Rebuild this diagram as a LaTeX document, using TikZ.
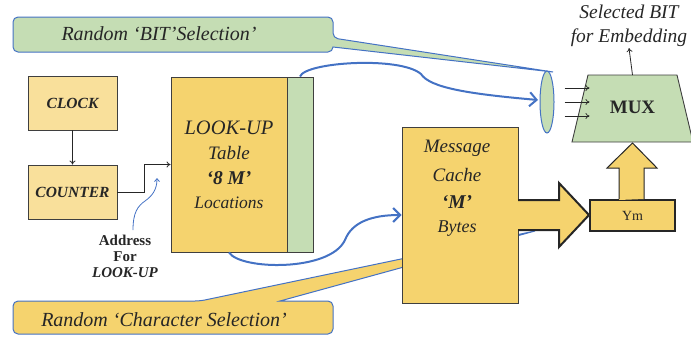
\documentclass[tikz,border=0pt]{standalone}
\usepackage{fontspec}
\setmainfont{Liberation Serif}
\usetikzlibrary{arrows.meta,shapes.geometric}
\definecolor{ylw}{HTML}{F5D36E}
\definecolor{lylw}{HTML}{F9E09B}
\definecolor{grn}{HTML}{C5DDB4}
\definecolor{blu}{HTML}{4472C4}
\definecolor{bord}{HTML}{3F3F3F}
\definecolor{txt}{HTML}{262626}
\newcommand{\fs}[2]{\fontsize{#1}{#2}\selectfont}
\tikzset{
  smallbox/.style={draw=bord, line width=0.9pt, fill=lylw, minimum width=89, minimum height=54, inner sep=0pt, text=txt, font=\fs{15.5}{18}\bfseries\itshape},
  bigbox/.style={draw=bord, line width=0.9pt, fill=ylw, inner sep=0pt, text=txt, align=center},
  blk/.style={draw=txt, line width=0.8pt, -{To[length=4pt,width=6pt]}},
  bluarr/.style={draw=blu, line width=2pt, -{Straight Barb[length=7pt,width=14pt,line width=2pt]}},
  callout/.style={draw=blu, line width=1pt, rounded corners=5pt},
  ctext/.style={text=txt, font=\fs{20}{22}\itshape, inner sep=0pt}
}
\begin{document}
\begin{tikzpicture}[x=1pt,y=-1pt]
\useasboundingbox (0,0) rectangle (691,338);

% green callout
\path[callout, fill=grn] (13,17) -- (333,17) -- (333,38) [sharp corners] -- (553,72) -- (333,47) [rounded corners=5pt] -- (333,52) -- (13,52) -- cycle;
\node[ctext] (bitsel) at (159,34) {Random ‘BIT’Selection’};

% yellow callout
\path[callout, fill=ylw] (13,301) -- (200,301) [sharp corners] -- (535,231) -- (280,301) [rounded corners=5pt] -- (333,301) -- (333,334) -- (13,334) -- cycle;
\node[ctext] (charsel) at (164,320) {Random ‘Character Selection’};

% clock & counter
\node[smallbox] (clock) at (72.5,103) {CLOCK};
\node[smallbox] (counter) at (72.5,192) {COUNTER};
\draw[blk] (clock) -- (counter);

% lookup table
\node[bigbox, minimum width=116, minimum height=175] (lookup) at (229,164.5) {};
\node[draw=bord, line width=0.9pt, fill=grn, minimum width=26, minimum height=175, inner sep=0pt] (strip) at (300,164.5) {};
\node[text=txt, font=\fs{20.5}{22}\itshape, inner sep=0pt] (lk1) at (229,128) {LOOK-UP};
\node[text=txt, font=\fs{19}{22}\itshape, inner sep=0pt] (lk2) at (229,153) {Table};
\node[text=txt, font=\fs{19.5}{22}\bfseries\itshape, inner sep=0pt] (lk3) at (229,178) {‘8 M’};
\node[text=txt, font=\fs{17.5}{20}\itshape, inner sep=0pt] (lk4) at (229,203) {Locations};

\draw[blk] (counter.east) -- ++(27,0) |- (lookup.west);

% address label
\node[text=txt, font=\fs{15}{16}\bfseries, align=center, inner sep=0pt] (addr) at (125,256) {Address\\For\\\itshape LOOK-UP};
\draw[draw=blu, line width=0.8pt, -{Straight Barb[length=3pt,width=5pt]}] (133,230) .. controls (133,212) and (138,206) .. (145,201) .. controls (152,196) and (157,190) .. (157,178);

% message cache
\node[bigbox, minimum width=116, minimum height=176] (msg) at (460,215) {};
\node[text=txt, font=\fs{19}{22}\itshape, inner sep=0pt] (m1) at (457,148) {Message};
\node[text=txt, font=\fs{19}{22}\itshape, inner sep=0pt] (m2) at (457,175) {Cache};
\node[text=txt, font=\fs{19.5}{22}\bfseries\itshape, inner sep=0pt] (m3) at (457,202) {‘M’};
\node[text=txt, font=\fs{18}{20}\itshape, inner sep=0pt] (m4) at (457,229) {Bytes};

% blue curves
\draw[bluarr] (strip.north) .. controls (305,62) and (400,56) .. (421,74) .. controls (430,88) and (470,94) .. (538,100);
\draw[bluarr] (lookup.south) .. controls (240,270) and (330,272) .. (345,240) .. controls (352,222) and (372,215) .. (msg.west);

% selector ellipse
\node[ellipse, draw=blu, line width=1pt, fill=grn, minimum width=14, minimum height=62, inner sep=0pt] (sel) at (547,102) {};

% MUX
\path[draw=bord, line width=0.9pt, fill=grn] (588,75) -- (677,75) -- (693,142) -- (572,142) -- cycle;
\node[text=txt, font=\fs{19}{22}\bfseries, inner sep=0pt] (mux) at (632.5,107) {MUX};
\coordinate (muxtop) at (632.5,75);
\coordinate (muxbot) at (632.5,143);
\foreach \dy in {-14,0,14} {
  \draw[blk, line width=0.7pt] ([shift={(10,\dy)}]sel.east) -- ([shift={(35,\dy)}]sel.east);
}

% output label
\node[text=txt, font=\fs{19.5}{24}\itshape, align=center, inner sep=1pt] (selbit) at (629,26) {Selected BIT\\for Embedding};
\draw[blk] (muxtop) -- (selbit.south);

% Ym
\node[draw=black!85, line width=2pt, fill=ylw, minimum width=85, minimum height=31, inner sep=0pt, font=\fs{14}{15}, text=txt] (ym) at (632.5,215.5) {Ym};

% big right arrow
\fill[ylw] (518,200) -- (559,200) -- (559,183) -- (590,215) -- (559,247) -- (559,230) -- (518,230) -- cycle;
\draw[black!85, line width=2pt, line join=miter] (518,200) -- (559,200) -- (559,183) -- (589,215) -- (559,247) -- (559,230) -- (518,230);

% up arrow
\fill[ylw] (619,200) -- (619,168) -- (607,168) -- (632.5,143) -- (657,168) -- (644,168) -- (644,199) -- cycle;
\draw[black!85, line width=1pt] (619,199) -- (619,168) -- (607,168) -- (632.5,143) -- (657,168) -- (644,168) -- (644,199);
\end{tikzpicture}
\end{document}
